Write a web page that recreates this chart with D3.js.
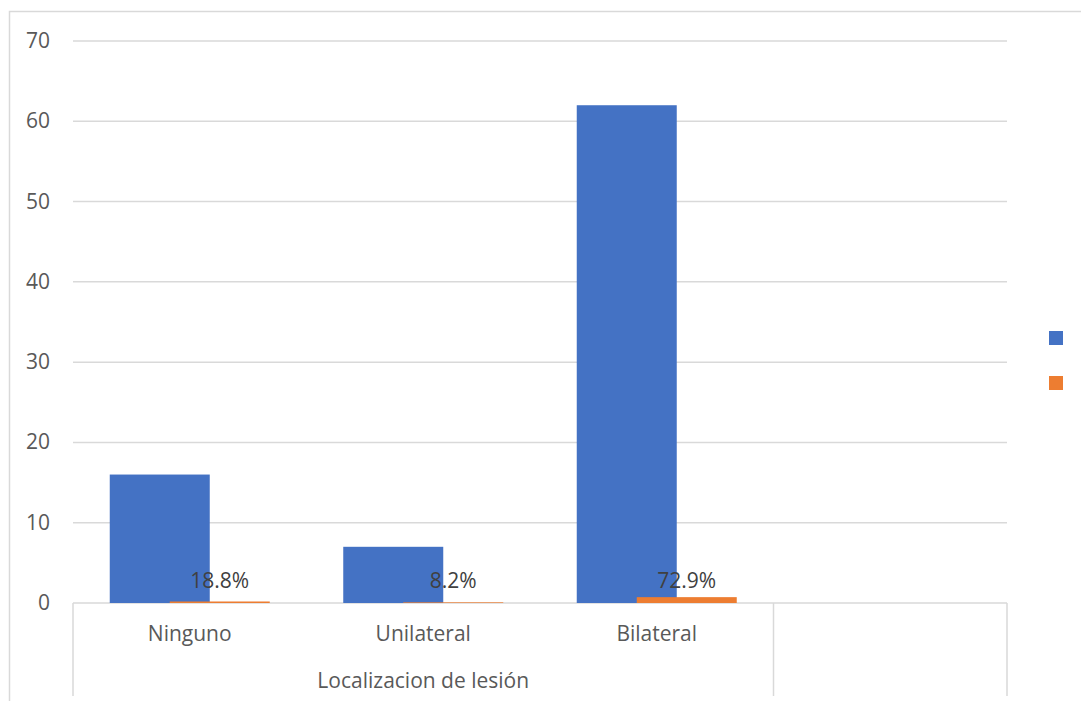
<!DOCTYPE html>
<html>
<head>
<meta charset="utf-8">
<script src="https://cdnjs.cloudflare.com/ajax/libs/d3/7.8.5/d3.min.js"></script>
<style>
  body { margin: 0; background: #fff; }
  text { font-family: "Open Sans", sans-serif; }
</style>
</head>
<body>
<div class="chart"></div>
<script>
// categories (the fourth slot is empty in the original)
var categories = ["Ninguno", "Unilateral", "Bilateral", ""];
var groupLabel = "Localizacion de lesión";
var counts = [16, 7, 62, null];
var percents = [0.188, 0.082, 0.729, null];
var percentLabels = ["18.8%", "8.2%", "72.9%", ""];
var yTicks = [0, 10, 20, 30, 40, 50, 60, 70];
var seriesColors = ["#4472C4", "#ED7D31"];

var width = 1081, height = 701;

function drawGraph() {
    const svg = d3.select('.chart')
      .append('svg')
        .attr('width', width)
        .attr('height', height);

    // outer chart border
    svg.append('rect')
        .attr('x', 9.5).attr('y', 11.5)
        .attr('width', 1080).attr('height', 700)
        .attr('fill', 'none')
        .attr('stroke', '#d9d9d9')
        .attr('stroke-width', 1.5);

    var x = d3.scaleBand()
        .domain(categories)
        .range([73, 1007]);

    var y = d3.scaleLinear()
        .domain([0, 70])
        .range([603, 41]);

    // offset of each series inside a category
    var sub = d3.scalePoint()
        .domain([0, 1])
        .range([-30, 30]);
    var barW = 100;

    // gridlines
    svg.selectAll('.grid')
        .data(yTicks)
        .enter()
        .append('line')
        .attr('x1', 73).attr('x2', 1007)
        .attr('y1', d => y(d)).attr('y2', d => y(d))
        .attr('stroke', '#d9d9d9')
        .attr('stroke-width', 1.5);

    // y tick labels
    svg.selectAll('.ytick')
        .data(yTicks)
        .enter()
        .append('text')
        .text(d => d)
        .attr('x', 50)
        .attr('y', d => y(d) + 7)
        .style('text-anchor', 'end')
        .style('font-size', '21px')
        .style('fill', '#595959');

    // blue bars (counts)
    svg.selectAll('.bar0')
        .data(categories.filter((c, i) => counts[i] != null))
        .enter()
        .append('rect')
        .attr('x', (d) => x(d) + x.bandwidth() / 2 + sub(0) - barW / 2)
        .attr('y', (d, i) => y(counts[i]))
        .attr('width', barW)
        .attr('height', (d, i) => y(0) - y(counts[i]))
        .attr('fill', seriesColors[0]);

    // orange bars (percent as fraction)
    svg.selectAll('.bar1')
        .data(categories.filter((c, i) => percents[i] != null))
        .enter()
        .append('rect')
        .attr('x', (d) => x(d) + x.bandwidth() / 2 + sub(1) - barW / 2)
        .attr('y', (d, i) => y(percents[i]))
        .attr('width', barW)
        .attr('height', (d, i) => y(0) - y(percents[i]))
        .attr('fill', seriesColors[1]);

    // data labels
    svg.selectAll('.plabel')
        .data(categories.filter((c, i) => percents[i] != null))
        .enter()
        .append('text')
        .text((d, i) => percentLabels[i])
        .attr('x', (d) => x(d) + x.bandwidth() / 2 + sub(1))
        .attr('y', (d, i) => y(0) - 15)
        .style('text-anchor', 'middle')
        .style('font-size', '21px')
        .style('fill', '#404040');

    // category labels
    svg.selectAll('.clabel')
        .data(categories)
        .enter()
        .append('text')
        .text(d => d)
        .attr('x', d => x(d) + x.bandwidth() / 2)
        .attr('y', 641)
        .style('text-anchor', 'middle')
        .style('font-size', '21px')
        .style('fill', '#595959');

    // group label across the first three categories
    svg.append('text')
        .text(groupLabel)
        .attr('x', (x(categories[0]) + x(categories[2]) + x.bandwidth()) / 2)
        .attr('y', 688)
        .style('text-anchor', 'middle')
        .style('font-size', '21px')
        .style('fill', '#595959');

    // multi-level axis separators
    var seps = [x(categories[0]), x(categories[3]), x(categories[3]) + x.bandwidth()];
    svg.selectAll('.sep')
        .data(seps)
        .enter()
        .append('line')
        .attr('x1', d => d).attr('x2', d => d)
        .attr('y1', 603).attr('y2', 696)
        .attr('stroke', '#d9d9d9')
        .attr('stroke-width', 1.5);

    // legend (no text in the original)
    svg.selectAll('.legend')
        .data(seriesColors)
        .enter()
        .append('rect')
        .attr('x', 1049)
        .attr('y', (d, i) => 331 + i * 45)
        .attr('width', 14).attr('height', 14)
        .attr('fill', d => d);
}
drawGraph();
</script>
</body>
</html>
